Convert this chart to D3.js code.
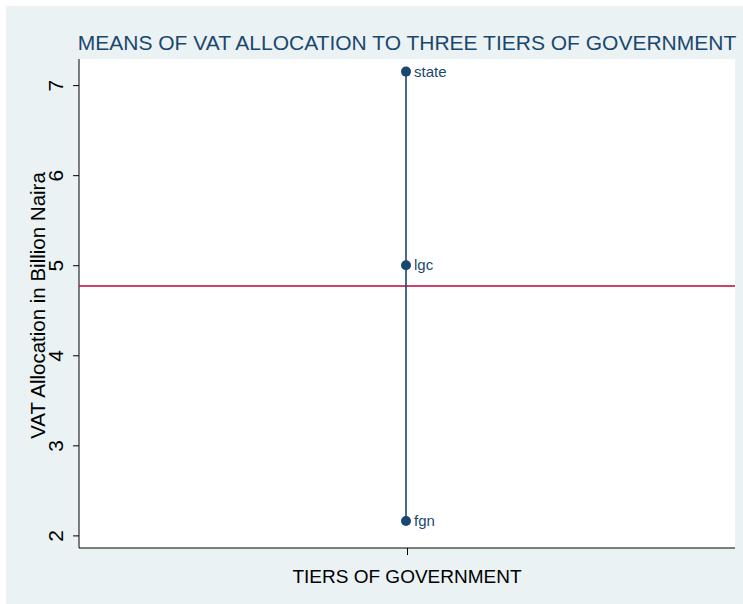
<!DOCTYPE html>
<html><head><meta charset="utf-8">
<script src="https://cdn.jsdelivr.net/npm/d3@7"></script>
<style>body{margin:0;background:#fff}</style>
</head><body>
<script>
const categories = ["state", "lgc", "fgn"];
const means = [7.15, 5.0, 2.16];
const yTicks = [2, 3, 4, 5, 6, 7];
const overallMean = 4.77;
const title = "MEANS OF VAT ALLOCATION TO THREE TIERS OF GOVERNMENT";
const yTitle = "VAT Allocation in Billion Naira";
const xTitle = "TIERS OF GOVERNMENT";

const W = 743, H = 604;
const plot = {l: 79, r: 735, t: 59, b: 548};
const blue = "#1a476f", red = "#c10534";
const font = "'Liberation Sans Narrow','Arial Narrow','Liberation Sans',sans-serif";

const svg = d3.select("body").append("svg").attr("width", W).attr("height", H);
svg.append("rect").attr("x", 6).attr("y", 6).attr("width", W - 6).attr("height", H - 6).attr("fill", "#eaf2f3");
svg.append("rect").attr("x", plot.l).attr("y", plot.t).attr("width", plot.r - plot.l).attr("height", plot.b - plot.t).attr("fill", "#fff");

const y = d3.scaleLinear().domain([1.86, 7.29]).range([plot.b, plot.t]);
const x = d3.scalePoint().domain(["g"]).range([plot.l, plot.r]).padding(0.5);

// y axis
const yAxis = svg.append("g").attr("transform", `translate(${plot.l},0)`)
  .call(d3.axisLeft(y).tickValues(yTicks).tickSize(6).tickFormat(d3.format("d")));
yAxis.select(".domain").attr("stroke", "#000").attr("d", `M0,${plot.t}V${plot.b}`);
yAxis.selectAll(".tick line").attr("stroke", "#000");
yAxis.selectAll(".tick text").attr("font-family", font).attr("font-size", 21).attr("fill", "#000")
  .attr("text-anchor", "middle").attr("dy", 0)
  .attr("transform", "translate(-16,0) rotate(-90)").attr("x", 0).attr("y", 0);

// x axis
const xAxis = svg.append("g").attr("transform", `translate(0,${plot.b})`)
  .call(d3.axisBottom(x).tickSize(7).tickFormat(""));
xAxis.select(".domain").attr("stroke", "#000").attr("d", `M${plot.l},0H${plot.r}`);
xAxis.selectAll(".tick line").attr("stroke", "#000");

// mean line
svg.append("line").attr("x1", plot.l).attr("x2", plot.r).attr("y1", y(overallMean)).attr("y2", y(overallMean))
  .attr("stroke", red).attr("stroke-width", 1.6);

// vertical line through means
const cx = x("g") - 1;
svg.append("line").attr("x1", cx).attr("x2", cx).attr("y1", y(d3.max(means))).attr("y2", y(d3.min(means)))
  .attr("stroke", blue).attr("stroke-width", 1.6);

const pts = svg.append("g");
categories.forEach((c, i) => {
  pts.append("circle").attr("cx", cx).attr("cy", y(means[i])).attr("r", 5).attr("fill", blue);
  pts.append("text").attr("x", cx + 8).attr("y", y(means[i])).attr("dy", "0.35em")
    .attr("font-family", font).attr("font-size", 15).attr("fill", blue).text(c);
});

svg.append("text").attr("x", (plot.l + plot.r) / 2).attr("y", 50).attr("text-anchor", "middle")
  .attr("font-family", font).attr("font-size", 21).attr("fill", blue).text(title);
svg.append("text").attr("transform", `translate(45,${(plot.t + plot.b) / 2 + 2}) rotate(-90)`).attr("text-anchor", "middle")
  .attr("font-family", font).attr("font-size", 20.5).attr("fill", "#000").text(yTitle);
svg.append("text").attr("x", x("g")).attr("y", 583).attr("text-anchor", "middle")
  .attr("font-family", font).attr("font-size", 19).attr("fill", "#000").text(xTitle);
</script>
</body></html>
